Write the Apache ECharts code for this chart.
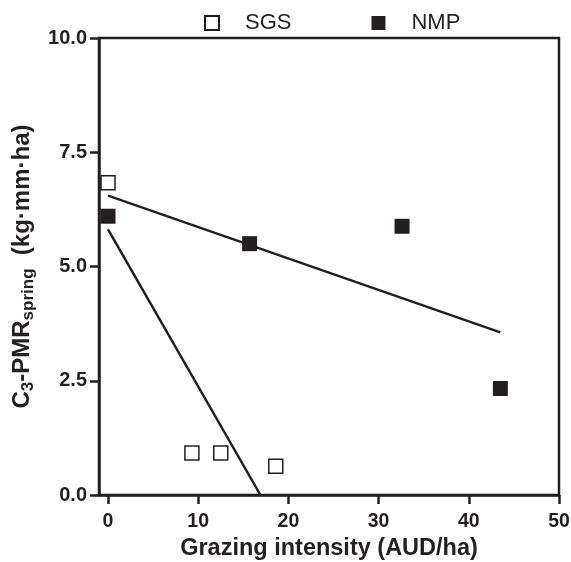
<!DOCTYPE html>
<html>
<head>
<meta charset="utf-8">
<script src="https://cdn.jsdelivr.net/npm/echarts@6/dist/echarts.min.js"></script>
<style>
  html, body { margin: 0; padding: 0; background: #fff; }
  #chart { width: 571px; height: 562px; }
</style>
</head>
<body>
<div id="chart"></div>
<script>
// points
const sgsPoints = [[0, 6.83], [9.3, 0.92], [12.5, 0.92], [18.6, 0.63]];
const nmpPoints = [[0, 6.1], [15.7, 5.5], [32.6, 5.88], [43.5, 2.33]];
// fitted lines (end points)
const sgsFit = [[0, 5.81], [16.9, 0]];
const nmpFit = [[0, 6.55], [43.5, 3.56]];
const xTicks = [0, 10, 20, 30, 40, 50];

const ink = "#231f20";
const font = "Liberation Sans, Arial, sans-serif";

const chart = echarts.init(document.getElementById("chart"));
chart.setOption({
  animation: false,
  backgroundColor: "#fff",
  grid: {
    left: 99, right: 12, top: 38, bottom: 67,
    outerBoundsMode: "none",
    show: true, borderColor: ink, borderWidth: 2.5
  },
  legend: {
    data: ["SGS", "NMP"],
    top: 7,
    left: 199,
    itemWidth: 14,
    itemHeight: 14,
    itemGap: 80,
    textStyle: { fontFamily: font, fontSize: 22, color: ink, padding: [0, 0, 0, 21] }
  },
  xAxis: {
    type: "value",
    min: -1,
    max: 50,
    name: "Grazing intensity (AUD/ha)",
    nameLocation: "middle",
    nameGap: 40,
    nameTextStyle: { fontFamily: font, fontSize: 23.5, fontWeight: "bold", color: ink },
    axisLine: { onZero: false, lineStyle: { color: ink, width: 2.5 } },
    axisTick: { length: 9, lineStyle: { color: ink, width: 2.5 }, customValues: xTicks },
    axisLabel: { customValues: xTicks, margin: 17, fontFamily: font, fontSize: 19.5, fontWeight: "bold", color: ink },
    splitLine: { show: false }
  },
  yAxis: {
    type: "value",
    min: 0,
    max: 10,
    interval: 2.5,
    name: "{m|C}{s|3}{m|-PMR}{s|spring}{m|  (kg·mm·ha)}",
    nameLocation: "middle",
    nameGap: 60,
    nameTextStyle: {
      fontFamily: font, fontWeight: "bold", color: ink,
      rich: {
        m: { fontFamily: font, fontSize: 24, fontWeight: "bold", color: ink },
        s: { fontFamily: font, fontSize: 17, fontWeight: "bold", color: ink, padding: [12, 0, 0, 0] }
      }
    },
    axisLine: { show: true, onZero: false, lineStyle: { color: ink, width: 2.5 } },
    axisTick: { show: true, length: 9, lineStyle: { color: ink, width: 2.5 } },
    axisLabel: {
      margin: 12, fontFamily: font, fontSize: 20, fontWeight: "bold", color: ink,
      formatter: (v) => v.toFixed(1)
    },
    splitLine: { show: false }
  },
  series: [
    {
      name: "SGS fit", type: "line", data: sgsFit, symbol: "none",
      lineStyle: { color: ink, width: 2.5 }, z: 1
    },
    {
      name: "NMP fit", type: "line", data: nmpFit, symbol: "none",
      lineStyle: { color: ink, width: 2.5 }, z: 1
    },
    {
      name: "SGS", type: "scatter", data: sgsPoints, symbol: "rect", symbolSize: 14,
      itemStyle: { color: "#fff", borderColor: ink, borderWidth: 1.5, opacity: 1 }, z: 3
    },
    {
      name: "NMP", type: "scatter", data: nmpPoints, symbol: "rect", symbolSize: 15,
      itemStyle: { color: ink, opacity: 1 }, z: 3
    }
  ]
});
</script>
</body>
</html>
